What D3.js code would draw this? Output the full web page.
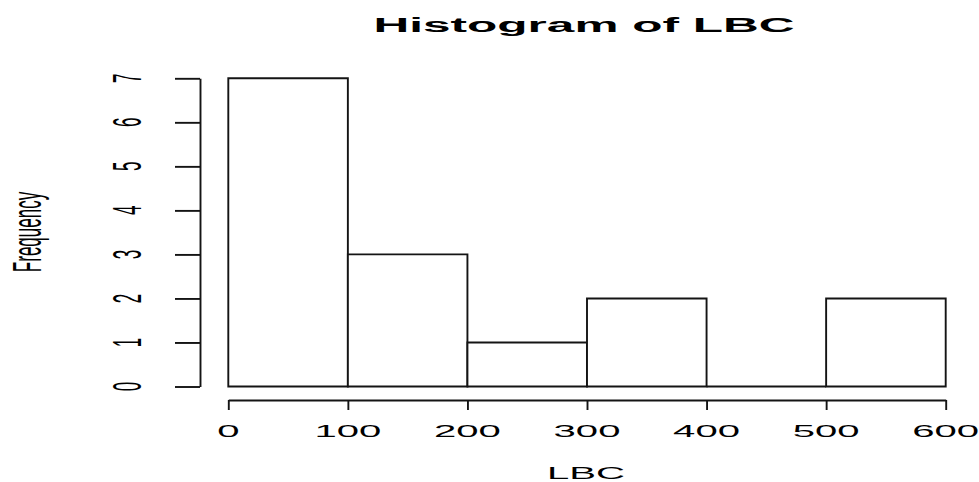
<!DOCTYPE html>
<html>
<head>
<meta charset="utf-8">
<script src="https://cdn.jsdelivr.net/npm/d3@7"></script>
<style>
  html, body { margin: 0; padding: 0; background: #fff; }
  svg { display: block; }
  text { font-family: "Liberation Sans", Arial, Helvetica, sans-serif; fill: #000; }
</style>
</head>
<body>
<svg id="chart" width="979" height="482"></svg>
<script>
// Histogram bins of LBC (break edges and counts)
const binStarts = [0, 100, 200, 300, 400, 500];
const binEnds   = [100, 200, 300, 400, 500, 600];
const counts    = [7, 3, 1, 2, 0, 2];
const xTicks = [0, 100, 200, 300, 400, 500, 600];
const yTicks = [0, 1, 2, 3, 4, 5, 6, 7];
const titleText = "Histogram of LBC";
const xLabel = "LBC";
const yLabel = "Frequency";

const sx = 2.36;          // horizontal stretch of the lettering
const ink = "#141414";

const svg = d3.select("#chart");

const x = d3.scaleLinear().domain([0, 600]).range([228.3, 945.7]);
const y = d3.scaleLinear().domain([0, 7]).range([386.5, 78.3]);

// bars as closed paths so that empty bins still show their base line
svg.append("g").selectAll("path")
  .data(counts.map((c, i) => ({ x0: binStarts[i], x1: binEnds[i], n: c })))
  .join("path")
  .attr("d", d => {
    const p = d3.path();
    p.moveTo(x(d.x0), y(0));
    p.lineTo(x(d.x0), y(d.n));
    p.lineTo(x(d.x1), y(d.n));
    p.lineTo(x(d.x1), y(0));
    p.closePath();
    return p.toString();
  })
  .attr("fill", "#fff")
  .attr("stroke", ink)
  .attr("stroke-width", 1.9);

// x axis
const gx = svg.append("g")
  .attr("transform", "translate(0,400)")
  .call(d3.axisBottom(x).tickValues(xTicks).tickSize(10).tickSizeOuter(0).tickFormat(""));
// y axis
const gy = svg.append("g")
  .attr("transform", "translate(200,0)")
  .call(d3.axisLeft(y).tickValues(yTicks).tickSize(25).tickSizeOuter(0).tickFormat(""));

[gx, gy].forEach(g => {
  g.selectAll("path, line").attr("stroke", ink).attr("stroke-width", 1.9);
});

// stretched text helper
function label(px, py, str, size, weight, rotate) {
  const g = svg.append("g")
    .attr("transform", `translate(${px},${py}) scale(${sx},1)` + (rotate ? " rotate(-90)" : ""));
  g.append("text")
    .attr("text-anchor", "middle")
    .attr("font-size", size)
    .attr("font-weight", weight || "normal")
    .text(str);
}

// x tick labels
xTicks.forEach(v => label(x(v), 437, String(v), 17));
// y tick labels
yTicks.forEach(v => label(141, y(v), String(v), 17, "normal", true));

// title and axis titles
label(584, 32, titleText, 21, "bold");
label(586, 479, xLabel, 17);
label(41, 232, yLabel, 17, "normal", true);
</script>
</body>
</html>
